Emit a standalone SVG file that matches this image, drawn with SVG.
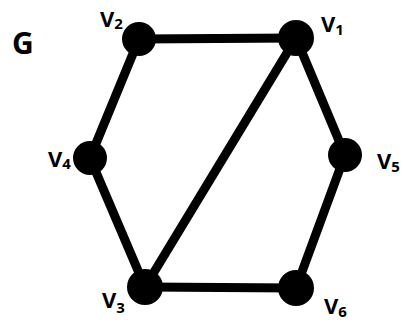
<svg xmlns="http://www.w3.org/2000/svg" width="403" height="322" viewBox="0 0 403 322">
<style>
.e{stroke:#000;stroke-width:9;fill:none;stroke-linecap:round}
.n{fill:#000}
.t{font-family:"Open Sans","Liberation Sans",sans-serif;font-weight:700;fill:#000;font-size:22px}
.s{font-size:15px}
.g{font-size:30px}
</style>
<rect width="403" height="322" fill="#fff"/>
<text class="t g" x="12" y="54">G</text>
<g id="edges">
<line class="e" x1="139" y1="39" x2="296" y2="38"/>
<line class="e" x1="139" y1="39" x2="90" y2="158"/>
<line class="e" x1="90" y1="158" x2="145" y2="287"/>
<line class="e" x1="145" y1="287" x2="296" y2="288"/>
<line class="e" x1="296" y1="288" x2="345" y2="155"/>
<line class="e" x1="345" y1="155" x2="296" y2="38"/>
<line class="e" x1="296" y1="38" x2="145" y2="287"/>
</g>
<g id="v1"><circle class="n" cx="296" cy="38" r="18"/><text class="t" x="321" y="32">V<tspan class="s" dy="3">1</tspan></text></g>
<g id="v2"><circle class="n" cx="139" cy="39" r="17"/><text class="t" x="100" y="27">V<tspan class="s" dy="2">2</tspan></text></g>
<g id="v4"><circle class="n" cx="90" cy="158" r="17"/><text class="t" x="48" y="167">V<tspan class="s" dy="2">4</tspan></text></g>
<g id="v5"><circle class="n" cx="345" cy="155" r="17"/><text class="t" x="377" y="169">V<tspan class="s" dy="3">5</tspan></text></g>
<g id="v3"><circle class="n" cx="145" cy="287" r="18"/><text class="t" x="102" y="308">V<tspan class="s" dy="5">3</tspan></text></g>
<g id="v6"><circle class="n" cx="296" cy="288" r="18"/><text class="t" x="324" y="314">V<tspan class="s" dy="3">6</tspan></text></g>
</svg>
